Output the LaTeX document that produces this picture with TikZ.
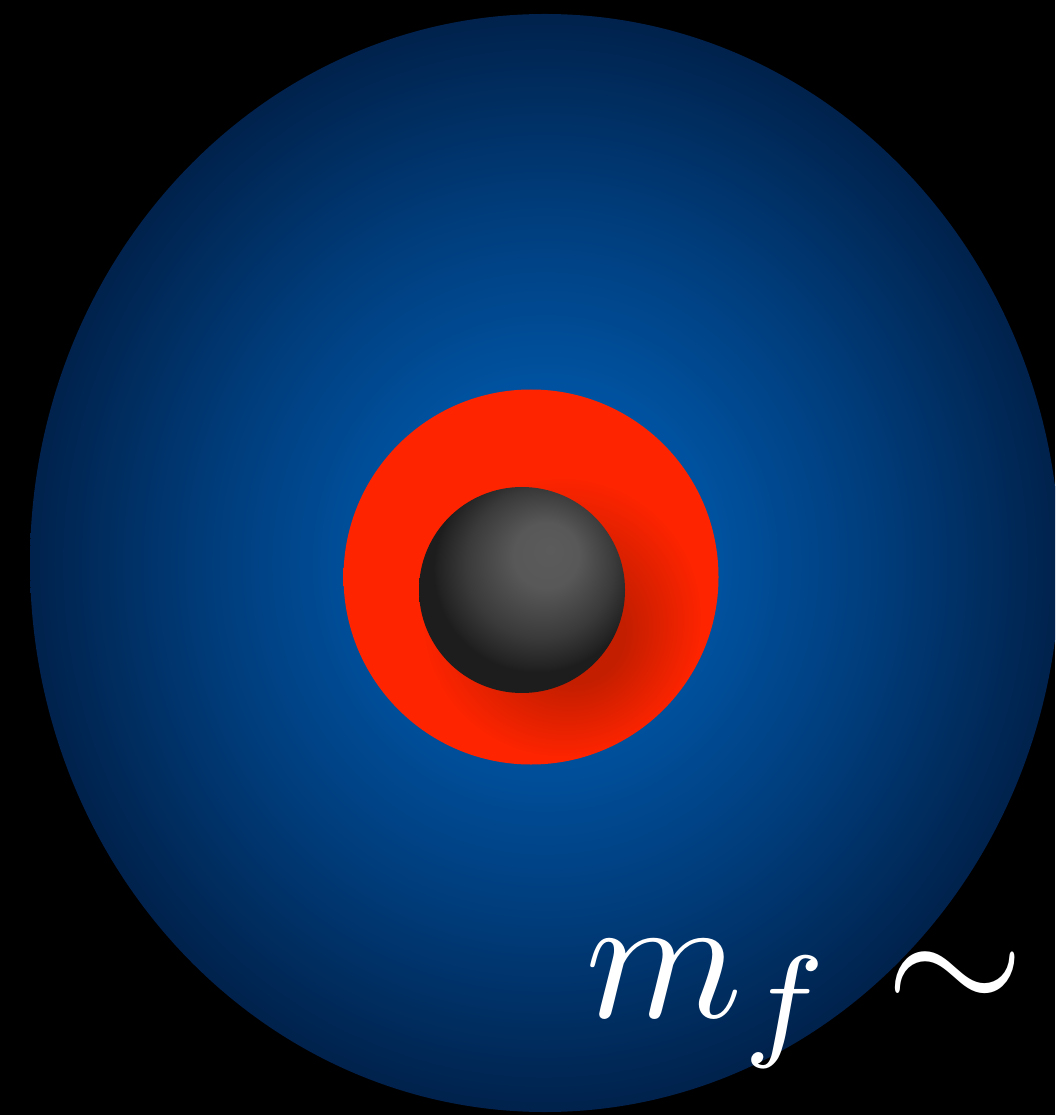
\documentclass[tikz,border=0pt]{standalone}
\usepackage{tikz}
\definecolor{cloudIn}{HTML}{0059AC}
\definecolor{cloudMid}{HTML}{003D7C}
\definecolor{cloudOut}{HTML}{00224C}
\definecolor{shellRed}{HTML}{FF2400}
\definecolor{shellDark}{HTML}{C41E00}
\definecolor{coreHi}{HTML}{5B5B5B}
\definecolor{coreMid}{HTML}{3A3A3A}
\definecolor{coreLo}{HTML}{222222}

% shadings for the three layers
\pgfdeclareradialshading{cloud}{\pgfpoint{0bp}{0bp}}{%
  color(0bp)=(cloudIn); color(6bp)=(cloudIn!95!cloudMid);
  color(16bp)=(cloudMid); color(25bp)=(cloudOut); color(50bp)=(cloudOut)}
\pgfdeclareradialshading{shell}{\pgfpoint{6.5bp}{-8.5bp}}{%
  color(0bp)=(shellDark); color(7bp)=(shellDark);
  color(19bp)=(shellRed); color(50bp)=(shellRed)}
\pgfdeclareradialshading{core}{\pgfpoint{7bp}{10bp}}{%
  color(0bp)=(coreHi); color(8bp)=(coreHi!90!coreMid);
  color(18bp)=(coreMid); color(24bp)=(coreLo); color(25bp)=(coreLo!85!black);
  color(50bp)=(coreLo!85!black)}

\begin{document}
\begin{tikzpicture}[
  layer/.style={shading=#1},
  label/.style={text=white, inner sep=0pt, scale=5.1},
]
  \fill[black] (0,0) rectangle (10.55,-11.15);
  \useasboundingbox (0,0) rectangle (10.55,-11.15);
  \clip (0,0) rectangle (10.55,-11.15);

  % outer cloud, shell and core
  \path[layer=cloud] (5.45,-5.63) ellipse [x radius=5.15, y radius=5.49];
  \path[layer=shell] (5.31,-5.77) circle [radius=1.875];
  \path[layer=core]  (5.22,-5.90) circle [radius=1.03];

  \node[label, anchor=base west] (mass) at (5.82,-10.17) {$m_f\sim$};
\end{tikzpicture}
\end{document}
